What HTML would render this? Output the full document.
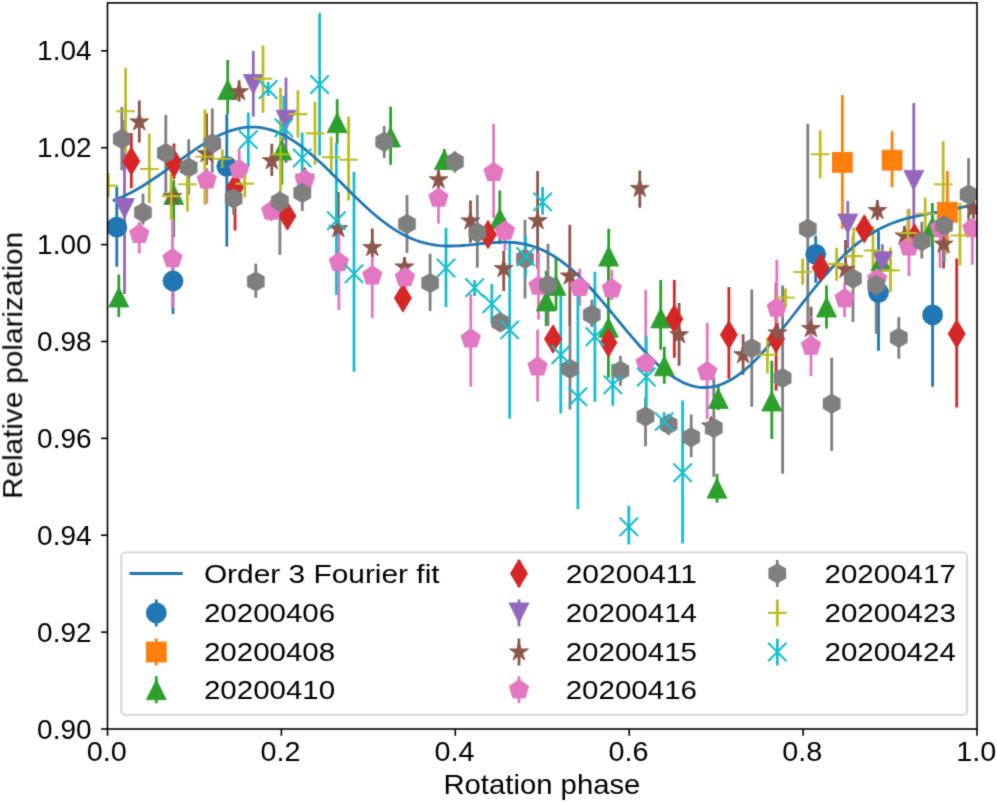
<!DOCTYPE html><html><head><meta charset="utf-8"><style>html,body{margin:0;padding:0;background:#fff;}svg{display:block;}text{font-family:"Liberation Sans", sans-serif;fill:#000;}</style></head><body>
<svg width="997" height="802" viewBox="0 0 997 802">
<defs><clipPath id="ax"><rect x="107.5" y="2.5" width="869.5" height="726.5"/></clipPath><filter id="bl" x="0" y="0" width="997" height="802" filterUnits="userSpaceOnUse" color-interpolation-filters="sRGB"><feConvolveMatrix order="3" kernelMatrix="0.01917 0.10012 0.01917 0.10012 0.52283 0.10012 0.01917 0.10012 0.01917" edgeMode="duplicate" preserveAlpha="true"/></filter></defs>
<g filter="url(#bl)">
<rect width="997" height="802" fill="#fff"/>
<g clip-path="url(#ax)">
<path d="M116.8 186.6V266.8M173.0 250.0V314.0M226.8 114.3V246.4M815.7 235.8V282.7M878.5 231.0V350.8M932.6 242.3V386.7" stroke="#1f77b4" stroke-width="2.8" fill="none"/>
<path d="M842.4 95.1V228.8M892.1 131.2V187.2M947.4 170.9V253.5" stroke="#ff7f0e" stroke-width="2.8" fill="none"/>
<path d="M118.8 274.4V316.9M173.7 180.0V237.3M227.7 60.0V114.3M281.8 138.0V184.8M337.2 99.3V143.6M390.6 106.8V164.8M444.3 149.0V170.0M499.8 190.5V244.0M546.2 271.0V326.0M556.0 257.4V310.0M608.7 228.8V270.0M608.4 262.0V377.7M660.7 280.0V349.8M664.3 346.8V383.7M718.3 385.0V410.0M717.0 474.0V502.7M771.8 360.8V438.9M826.5 285.6V328.6M881.0 250.0V272.0M932.4 203.0V247.3" stroke="#2ca02c" stroke-width="2.8" fill="none"/>
<path d="M131.3 133.0V188.2M174.0 143.5V179.0M235.0 179.0V230.5M287.4 203.9V228.8M402.9 288.0V308.0M488.0 224.0V245.0M553.0 326.0V352.0M608.4 330.0V356.0M674.3 280.0V357.8M728.9 287.0V378.7M776.1 282.5V390.5M820.7 256.0V279.0M864.3 216.0V241.0M914.5 226.0V250.0M956.7 258.5V407.6" stroke="#d62728" stroke-width="2.8" fill="none"/>
<path d="M124.5 120.0V294.0M253.3 50.9V116.7M286.0 77.4V163.0M847.8 200.9V248.6M882.4 244.2V272.0M913.8 103.1V228.8" stroke="#9467bd" stroke-width="2.8" fill="none"/>
<path d="M139.3 100.5V142.4M172.3 186.0V206.0M206.6 113.5V165.0M239.1 80.3V101.5M271.8 143.7V176.1M304.8 168.0V186.0M338.3 191.9V240.0M372.3 228.4V258.0M404.5 257.0V277.0M438.5 170.0V190.0M470.5 200.5V242.8M503.7 250.7V291.0M537.6 170.9V268.7M569.8 224.8V326.0M639.8 170.5V207.8M679.1 302.9V365.8M711.0 418.0V434.0M743.1 334.2V374.8M777.4 323.0V343.0M811.0 306.8V338.0M845.5 239.9V279.0M877.4 200.0V220.0M904.5 226.0V246.0M943.6 234.0V268.5M973.5 198.0V219.0" stroke="#8c564b" stroke-width="2.8" fill="none"/>
<path d="M139.3 221.7V253.5M172.5 219.2V308.0M206.8 168.0V203.6M239.2 148.7V180.0M271.2 200.0V221.0M304.8 171.0V190.0M338.9 232.0V310.0M372.3 256.7V318.0M405.0 266.0V288.0M438.5 188.0V223.5M470.8 293.9V386.7M493.6 123.7V217.9M504.9 218.0V250.7M537.6 329.8V401.7M538.5 252.5V319.8M579.8 268.7V306.0M611.8 269.7V300.0M645.7 290.0V372.0M707.2 322.9V419.1M776.8 259.7V323.6M811.0 316.2V376.0M844.6 282.7V316.9M877.2 268.0V289.0M909.0 208.7V276.0M940.0 218.0V267.9M972.3 218.0V264.7" stroke="#e377c2" stroke-width="2.8" fill="none"/>
<path d="M121.8 107.0V170.2M143.0 193.7V224.8M165.8 115.0V192.5M188.7 139.3V194.8M212.3 108.4V172.4M233.6 188.0V214.8M255.8 263.7V297.8M279.9 191.0V254.7M302.3 182.0V211.0M384.2 126.1V157.9M407.0 194.9V252.7M430.1 253.7V310.9M454.9 151.2V172.4M477.3 194.9V267.7M500.3 312.0V332.0M525.0 219.8V298.6M548.0 243.7V326.0M570.0 325.9V409.6M591.8 299.8V326.9M620.4 355.8V385.7M645.5 397.7V446.2M668.6 414.0V435.0M691.2 414.6V457.2M713.8 377.7V476.8M751.8 289.4V406.7M782.6 285.6V473.8M807.8 123.8V327.4M831.7 357.8V450.9M853.0 236.1V321.9M876.2 274.0V333.8M898.8 316.9V358.8M921.8 221.7V258.5M944.2 215.0V262.2M968.6 158.3V229.8" stroke="#7f7f7f" stroke-width="2.8" fill="none"/>
<path d="M108.2 173.1V196.8M125.6 68.1V153.0M149.3 133.7V203.0M171.2 173.6V219.8M187.4 171.0V211.7M204.9 109.4V204.8M222.3 150.0V167.4M244.8 173.6V197.3M263.0 45.5V112.7M280.5 87.8V191.0M297.9 90.2V137.7M315.0 101.8V164.8M331.2 136.7V174.9M348.6 116.8V200.6M767.4 338.0V373.5M785.5 289.4V306.2M802.7 258.7V284.7M820.2 130.2V178.2M836.6 247.7V280.7M853.7 227.4V289.7M873.0 226.2V269.8M890.5 247.4V292.2M907.9 209.6V242.0M925.2 197.4V232.3M943.2 141.2V204.9M960.0 203.0V265.4" stroke="#bcbd22" stroke-width="2.8" fill="none"/>
<path d="M248.3 112.5V166.2M268.2 82.0V96.0M283.8 95.8V140.0M302.2 132.4V172.4M319.6 13.0V155.4M336.4 143.0V295.0M354.0 171.7V371.8M446.0 227.9V306.9M474.6 280.0V296.0M491.8 284.0V323.9M509.7 240.8V418.8M525.7 235.8V276.7M542.6 186.9V214.8M560.8 296.0V413.6M577.9 294.8V509.3M594.9 271.8V401.7M612.8 363.8V405.7M628.8 505.7V544.6M646.3 335.8V407.0M664.1 412.1V432.0M682.6 400.6V543.6" stroke="#17becf" stroke-width="2.8" fill="none"/>
<path d="M114.0 200.4 L117.9 198.8 L121.8 197.1 L125.8 195.2 L129.7 193.3 L133.6 191.2 L137.5 189.0 L141.4 186.7 L145.4 184.3 L149.3 181.8 L153.2 179.2 L157.1 176.5 L161.0 173.8 L165.0 171.0 L168.9 168.2 L172.8 165.4 L176.7 162.5 L180.6 159.7 L184.6 156.8 L188.5 154.1 L192.4 151.3 L196.3 148.7 L200.2 146.1 L204.2 143.6 L208.1 141.2 L212.0 139.0 L215.9 136.9 L219.8 135.0 L223.8 133.3 L227.7 131.7 L231.6 130.4 L235.5 129.3 L239.4 128.4 L243.4 127.7 L247.3 127.2 L251.2 127.1 L255.1 127.1 L259.0 127.4 L263.0 128.0 L266.9 128.8 L270.8 129.9 L274.7 131.2 L278.6 132.8 L282.6 134.6 L286.5 136.6 L290.4 138.9 L294.3 141.4 L298.2 144.1 L302.2 147.0 L306.1 150.1 L310.0 153.3 L313.9 156.7 L317.8 160.2 L321.8 163.8 L325.7 167.5 L329.6 171.3 L333.5 175.2 L337.4 179.1 L341.4 183.0 L345.3 186.9 L349.2 190.8 L353.1 194.7 L357.0 198.5 L361.0 202.3 L364.9 206.0 L368.8 209.5 L372.7 213.0 L376.6 216.3 L380.6 219.5 L384.5 222.5 L388.4 225.4 L392.3 228.1 L396.2 230.6 L400.2 232.9 L404.1 235.0 L408.0 237.0 L411.9 238.7 L415.8 240.2 L419.8 241.6 L423.7 242.7 L427.6 243.7 L431.5 244.5 L435.4 245.1 L439.4 245.6 L443.3 245.8 L447.2 246.0 L451.1 246.0 L455.0 245.9 L459.0 245.8 L462.9 245.5 L466.8 245.2 L470.7 244.8 L474.6 244.4 L478.6 243.9 L482.5 243.5 L486.4 243.1 L490.3 242.8 L494.2 242.5 L498.2 242.3 L502.1 242.1 L506.0 242.1 L509.9 242.3 L513.8 242.5 L517.8 243.0 L521.7 243.6 L525.6 244.3 L529.5 245.3 L533.4 246.5 L537.4 247.9 L541.3 249.5 L545.2 251.3 L549.1 253.4 L553.1 255.7 L557.0 258.2 L560.9 260.9 L564.8 263.9 L568.7 267.0 L572.7 270.4 L576.6 274.0 L580.5 277.7 L584.4 281.7 L588.3 285.7 L592.3 290.0 L596.2 294.4 L600.1 298.9 L604.0 303.4 L607.9 308.1 L611.9 312.8 L615.8 317.6 L619.7 322.3 L623.6 327.1 L627.5 331.8 L631.5 336.4 L635.4 341.0 L639.3 345.5 L643.2 349.9 L647.1 354.1 L651.1 358.1 L655.0 362.0 L658.9 365.6 L662.8 369.0 L666.7 372.2 L670.7 375.1 L674.6 377.8 L678.5 380.1 L682.4 382.2 L686.3 383.9 L690.3 385.3 L694.2 386.4 L698.1 387.1 L702.0 387.5 L705.9 387.5 L709.9 387.2 L713.8 386.6 L717.7 385.6 L721.6 384.2 L725.5 382.6 L729.5 380.6 L733.4 378.3 L737.3 375.7 L741.2 372.8 L745.1 369.6 L749.1 366.2 L753.0 362.5 L756.9 358.6 L760.8 354.5 L764.7 350.2 L768.7 345.7 L772.6 341.1 L776.5 336.3 L780.4 331.5 L784.3 326.5 L788.3 321.5 L792.2 316.5 L796.1 311.5 L800.0 306.4 L803.9 301.4 L807.9 296.4 L811.8 291.5 L815.7 286.6 L819.6 281.9 L823.5 277.2 L827.5 272.7 L831.4 268.3 L835.3 264.1 L839.2 260.0 L843.1 256.1 L847.1 252.4 L851.0 248.9 L854.9 245.6 L858.8 242.4 L862.7 239.5 L866.7 236.7 L870.6 234.1 L874.5 231.7 L878.4 229.6 L882.3 227.5 L886.3 225.7 L890.2 224.0 L894.1 222.5 L898.0 221.1 L901.9 219.9 L905.9 218.7 L909.8 217.7 L913.7 216.8 L917.6 215.9 L921.5 215.1 L925.5 214.4 L929.4 213.7 L933.3 213.0 L937.2 212.3 L941.1 211.6 L945.1 210.9 L949.0 210.2 L952.9 209.4 L956.8 208.5 L960.7 207.6 L964.7 206.6 L968.6 205.5 L972.5 204.3" stroke="#1f77b4" stroke-width="2.8" fill="none" stroke-linejoin="round" stroke-linecap="square"/>
<circle cx="116.8" cy="227.2" r="10.40" fill="#1f77b4"/>
<circle cx="173.0" cy="281.0" r="10.40" fill="#1f77b4"/>
<circle cx="226.8" cy="166.3" r="10.40" fill="#1f77b4"/>
<circle cx="815.7" cy="254.3" r="10.40" fill="#1f77b4"/>
<circle cx="878.5" cy="292.6" r="10.40" fill="#1f77b4"/>
<circle cx="932.6" cy="314.9" r="10.40" fill="#1f77b4"/>
<rect x="832.0" y="152.0" width="20.8" height="20.8" fill="#ff7f0e"/>
<rect x="881.7" y="149.8" width="20.8" height="20.8" fill="#ff7f0e"/>
<rect x="937.0" y="201.9" width="20.8" height="20.8" fill="#ff7f0e"/>
<path d="M118.8 287.0 L108.8 307.0 L128.8 307.0Z" fill="#2ca02c" stroke="#2ca02c" stroke-width="0.8" stroke-linejoin="miter" stroke-miterlimit="10"/>
<path d="M173.7 184.5 L163.7 204.5 L183.7 204.5Z" fill="#2ca02c" stroke="#2ca02c" stroke-width="0.8" stroke-linejoin="miter" stroke-miterlimit="10"/>
<path d="M227.7 79.5 L217.7 99.5 L237.7 99.5Z" fill="#2ca02c" stroke="#2ca02c" stroke-width="0.8" stroke-linejoin="miter" stroke-miterlimit="10"/>
<path d="M281.8 140.0 L271.8 160.0 L291.8 160.0Z" fill="#2ca02c" stroke="#2ca02c" stroke-width="0.8" stroke-linejoin="miter" stroke-miterlimit="10"/>
<path d="M337.2 112.7 L327.2 132.7 L347.2 132.7Z" fill="#2ca02c" stroke="#2ca02c" stroke-width="0.8" stroke-linejoin="miter" stroke-miterlimit="10"/>
<path d="M390.6 127.0 L380.6 147.0 L400.6 147.0Z" fill="#2ca02c" stroke="#2ca02c" stroke-width="0.8" stroke-linejoin="miter" stroke-miterlimit="10"/>
<path d="M444.3 149.6 L434.3 169.6 L454.3 169.6Z" fill="#2ca02c" stroke="#2ca02c" stroke-width="0.8" stroke-linejoin="miter" stroke-miterlimit="10"/>
<path d="M499.8 208.5 L489.8 228.5 L509.8 228.5Z" fill="#2ca02c" stroke="#2ca02c" stroke-width="0.8" stroke-linejoin="miter" stroke-miterlimit="10"/>
<path d="M546.2 291.0 L536.2 311.0 L556.2 311.0Z" fill="#2ca02c" stroke="#2ca02c" stroke-width="0.8" stroke-linejoin="miter" stroke-miterlimit="10"/>
<path d="M556.0 275.5 L546.0 295.5 L566.0 295.5Z" fill="#2ca02c" stroke="#2ca02c" stroke-width="0.8" stroke-linejoin="miter" stroke-miterlimit="10"/>
<path d="M608.7 246.1 L598.7 266.1 L618.7 266.1Z" fill="#2ca02c" stroke="#2ca02c" stroke-width="0.8" stroke-linejoin="miter" stroke-miterlimit="10"/>
<path d="M608.4 317.3 L598.4 337.3 L618.4 337.3Z" fill="#2ca02c" stroke="#2ca02c" stroke-width="0.8" stroke-linejoin="miter" stroke-miterlimit="10"/>
<path d="M660.7 307.9 L650.7 327.9 L670.7 327.9Z" fill="#2ca02c" stroke="#2ca02c" stroke-width="0.8" stroke-linejoin="miter" stroke-miterlimit="10"/>
<path d="M664.3 355.8 L654.3 375.8 L674.3 375.8Z" fill="#2ca02c" stroke="#2ca02c" stroke-width="0.8" stroke-linejoin="miter" stroke-miterlimit="10"/>
<path d="M718.3 388.5 L708.3 408.5 L728.3 408.5Z" fill="#2ca02c" stroke="#2ca02c" stroke-width="0.8" stroke-linejoin="miter" stroke-miterlimit="10"/>
<path d="M717.0 478.2 L707.0 498.2 L727.0 498.2Z" fill="#2ca02c" stroke="#2ca02c" stroke-width="0.8" stroke-linejoin="miter" stroke-miterlimit="10"/>
<path d="M771.8 391.0 L761.8 411.0 L781.8 411.0Z" fill="#2ca02c" stroke="#2ca02c" stroke-width="0.8" stroke-linejoin="miter" stroke-miterlimit="10"/>
<path d="M826.5 297.0 L816.5 317.0 L836.5 317.0Z" fill="#2ca02c" stroke="#2ca02c" stroke-width="0.8" stroke-linejoin="miter" stroke-miterlimit="10"/>
<path d="M881.0 251.0 L871.0 271.0 L891.0 271.0Z" fill="#2ca02c" stroke="#2ca02c" stroke-width="0.8" stroke-linejoin="miter" stroke-miterlimit="10"/>
<path d="M932.4 216.7 L922.4 236.7 L942.4 236.7Z" fill="#2ca02c" stroke="#2ca02c" stroke-width="0.8" stroke-linejoin="miter" stroke-miterlimit="10"/>
<path d="M131.3 147.1 L139.8 161.2 L131.3 175.3 L122.8 161.2Z" fill="#d62728" stroke="#d62728" stroke-width="1.0" stroke-linejoin="miter" stroke-miterlimit="10"/>
<path d="M174.0 149.1 L182.5 163.2 L174.0 177.3 L165.5 163.2Z" fill="#d62728" stroke="#d62728" stroke-width="1.0" stroke-linejoin="miter" stroke-miterlimit="10"/>
<path d="M235.0 173.3 L243.5 187.4 L235.0 201.5 L226.5 187.4Z" fill="#d62728" stroke="#d62728" stroke-width="1.0" stroke-linejoin="miter" stroke-miterlimit="10"/>
<path d="M287.4 201.9 L295.9 216.0 L287.4 230.1 L278.9 216.0Z" fill="#d62728" stroke="#d62728" stroke-width="1.0" stroke-linejoin="miter" stroke-miterlimit="10"/>
<path d="M402.9 283.9 L411.4 298.0 L402.9 312.1 L394.4 298.0Z" fill="#d62728" stroke="#d62728" stroke-width="1.0" stroke-linejoin="miter" stroke-miterlimit="10"/>
<path d="M488.0 220.4 L496.5 234.5 L488.0 248.6 L479.5 234.5Z" fill="#d62728" stroke="#d62728" stroke-width="1.0" stroke-linejoin="miter" stroke-miterlimit="10"/>
<path d="M553.0 324.9 L561.5 339.0 L553.0 353.1 L544.5 339.0Z" fill="#d62728" stroke="#d62728" stroke-width="1.0" stroke-linejoin="miter" stroke-miterlimit="10"/>
<path d="M608.4 328.7 L616.9 342.8 L608.4 356.9 L599.9 342.8Z" fill="#d62728" stroke="#d62728" stroke-width="1.0" stroke-linejoin="miter" stroke-miterlimit="10"/>
<path d="M674.3 304.8 L682.8 318.9 L674.3 333.0 L665.8 318.9Z" fill="#d62728" stroke="#d62728" stroke-width="1.0" stroke-linejoin="miter" stroke-miterlimit="10"/>
<path d="M728.9 320.7 L737.4 334.8 L728.9 348.9 L720.4 334.8Z" fill="#d62728" stroke="#d62728" stroke-width="1.0" stroke-linejoin="miter" stroke-miterlimit="10"/>
<path d="M776.1 324.7 L784.6 338.8 L776.1 352.9 L767.6 338.8Z" fill="#d62728" stroke="#d62728" stroke-width="1.0" stroke-linejoin="miter" stroke-miterlimit="10"/>
<path d="M820.7 253.6 L829.2 267.7 L820.7 281.8 L812.2 267.7Z" fill="#d62728" stroke="#d62728" stroke-width="1.0" stroke-linejoin="miter" stroke-miterlimit="10"/>
<path d="M864.3 214.8 L872.8 228.9 L864.3 243.0 L855.8 228.9Z" fill="#d62728" stroke="#d62728" stroke-width="1.0" stroke-linejoin="miter" stroke-miterlimit="10"/>
<path d="M914.5 223.9 L923.0 238.0 L914.5 252.1 L906.0 238.0Z" fill="#d62728" stroke="#d62728" stroke-width="1.0" stroke-linejoin="miter" stroke-miterlimit="10"/>
<path d="M956.7 319.7 L965.2 333.8 L956.7 347.9 L948.2 333.8Z" fill="#d62728" stroke="#d62728" stroke-width="1.0" stroke-linejoin="miter" stroke-miterlimit="10"/>
<path d="M124.5 218.5 L114.5 198.5 L134.5 198.5Z" fill="#9467bd" stroke="#9467bd" stroke-width="0.8" stroke-linejoin="miter" stroke-miterlimit="10"/>
<path d="M253.3 94.5 L243.3 74.5 L263.3 74.5Z" fill="#9467bd" stroke="#9467bd" stroke-width="0.8" stroke-linejoin="miter" stroke-miterlimit="10"/>
<path d="M286.0 130.2 L276.0 110.2 L296.0 110.2Z" fill="#9467bd" stroke="#9467bd" stroke-width="0.8" stroke-linejoin="miter" stroke-miterlimit="10"/>
<path d="M847.8 234.0 L837.8 214.0 L857.8 214.0Z" fill="#9467bd" stroke="#9467bd" stroke-width="0.8" stroke-linejoin="miter" stroke-miterlimit="10"/>
<path d="M882.4 271.8 L872.4 251.8 L892.4 251.8Z" fill="#9467bd" stroke="#9467bd" stroke-width="0.8" stroke-linejoin="miter" stroke-miterlimit="10"/>
<path d="M913.8 190.4 L903.8 170.4 L923.8 170.4Z" fill="#9467bd" stroke="#9467bd" stroke-width="0.8" stroke-linejoin="miter" stroke-miterlimit="10"/>
<path d="M139.3 112.0 L137.1 118.9 L129.8 118.9 L135.7 123.2 L133.4 130.1 L139.3 125.8 L145.2 130.1 L142.9 123.2 L148.8 118.9 L141.5 118.9Z" fill="#8c564b" stroke="#8c564b" stroke-width="0.9" stroke-linejoin="miter" stroke-miterlimit="10"/>
<path d="M172.3 186.5 L170.1 193.4 L162.8 193.4 L168.7 197.7 L166.4 204.6 L172.3 200.3 L178.2 204.6 L175.9 197.7 L181.8 193.4 L174.5 193.4Z" fill="#8c564b" stroke="#8c564b" stroke-width="0.9" stroke-linejoin="miter" stroke-miterlimit="10"/>
<path d="M206.6 143.7 L204.4 150.6 L197.1 150.6 L203.0 154.9 L200.7 161.8 L206.6 157.5 L212.5 161.8 L210.2 154.9 L216.1 150.6 L208.8 150.6Z" fill="#8c564b" stroke="#8c564b" stroke-width="0.9" stroke-linejoin="miter" stroke-miterlimit="10"/>
<path d="M239.1 81.8 L236.9 88.7 L229.6 88.7 L235.5 93.0 L233.2 99.9 L239.1 95.6 L245.0 99.9 L242.7 93.0 L248.6 88.7 L241.3 88.7Z" fill="#8c564b" stroke="#8c564b" stroke-width="0.9" stroke-linejoin="miter" stroke-miterlimit="10"/>
<path d="M271.8 150.8 L269.6 157.7 L262.3 157.7 L268.2 162.0 L265.9 168.9 L271.8 164.6 L277.7 168.9 L275.4 162.0 L281.3 157.7 L274.0 157.7Z" fill="#8c564b" stroke="#8c564b" stroke-width="0.9" stroke-linejoin="miter" stroke-miterlimit="10"/>
<path d="M304.8 167.4 L302.6 174.3 L295.3 174.3 L301.2 178.6 L298.9 185.5 L304.8 181.2 L310.7 185.5 L308.4 178.6 L314.3 174.3 L307.0 174.3Z" fill="#8c564b" stroke="#8c564b" stroke-width="0.9" stroke-linejoin="miter" stroke-miterlimit="10"/>
<path d="M338.3 218.8 L336.1 225.7 L328.8 225.7 L334.7 230.0 L332.4 236.9 L338.3 232.6 L344.2 236.9 L341.9 230.0 L347.8 225.7 L340.5 225.7Z" fill="#8c564b" stroke="#8c564b" stroke-width="0.9" stroke-linejoin="miter" stroke-miterlimit="10"/>
<path d="M372.3 237.7 L370.1 244.6 L362.8 244.6 L368.7 248.9 L366.4 255.8 L372.3 251.5 L378.2 255.8 L375.9 248.9 L381.8 244.6 L374.5 244.6Z" fill="#8c564b" stroke="#8c564b" stroke-width="0.9" stroke-linejoin="miter" stroke-miterlimit="10"/>
<path d="M404.5 257.0 L402.3 263.9 L395.0 263.9 L400.9 268.2 L398.6 275.1 L404.5 270.8 L410.4 275.1 L408.1 268.2 L414.0 263.9 L406.7 263.9Z" fill="#8c564b" stroke="#8c564b" stroke-width="0.9" stroke-linejoin="miter" stroke-miterlimit="10"/>
<path d="M438.5 169.9 L436.3 176.8 L429.0 176.8 L434.9 181.1 L432.6 188.0 L438.5 183.7 L444.4 188.0 L442.1 181.1 L448.0 176.8 L440.7 176.8Z" fill="#8c564b" stroke="#8c564b" stroke-width="0.9" stroke-linejoin="miter" stroke-miterlimit="10"/>
<path d="M470.5 211.0 L468.3 217.9 L461.0 217.9 L466.9 222.2 L464.6 229.1 L470.5 224.8 L476.4 229.1 L474.1 222.2 L480.0 217.9 L472.7 217.9Z" fill="#8c564b" stroke="#8c564b" stroke-width="0.9" stroke-linejoin="miter" stroke-miterlimit="10"/>
<path d="M503.7 258.7 L501.5 265.6 L494.2 265.6 L500.1 269.9 L497.8 276.8 L503.7 272.5 L509.6 276.8 L507.3 269.9 L513.2 265.6 L505.9 265.6Z" fill="#8c564b" stroke="#8c564b" stroke-width="0.9" stroke-linejoin="miter" stroke-miterlimit="10"/>
<path d="M537.6 210.8 L535.4 217.7 L528.1 217.7 L534.0 222.0 L531.7 228.9 L537.6 224.6 L543.5 228.9 L541.2 222.0 L547.1 217.7 L539.8 217.7Z" fill="#8c564b" stroke="#8c564b" stroke-width="0.9" stroke-linejoin="miter" stroke-miterlimit="10"/>
<path d="M569.8 266.1 L567.6 273.0 L560.3 273.0 L566.2 277.3 L563.9 284.2 L569.8 279.9 L575.7 284.2 L573.4 277.3 L579.3 273.0 L572.0 273.0Z" fill="#8c564b" stroke="#8c564b" stroke-width="0.9" stroke-linejoin="miter" stroke-miterlimit="10"/>
<path d="M639.8 178.5 L637.6 185.4 L630.3 185.4 L636.2 189.7 L633.9 196.6 L639.8 192.3 L645.7 196.6 L643.4 189.7 L649.3 185.4 L642.0 185.4Z" fill="#8c564b" stroke="#8c564b" stroke-width="0.9" stroke-linejoin="miter" stroke-miterlimit="10"/>
<path d="M679.1 324.8 L676.9 331.7 L669.6 331.7 L675.5 336.0 L673.2 342.9 L679.1 338.6 L685.0 342.9 L682.7 336.0 L688.6 331.7 L681.3 331.7Z" fill="#8c564b" stroke="#8c564b" stroke-width="0.9" stroke-linejoin="miter" stroke-miterlimit="10"/>
<path d="M711.0 416.0 L708.8 422.9 L701.5 422.9 L707.4 427.2 L705.1 434.1 L711.0 429.8 L716.9 434.1 L714.6 427.2 L720.5 422.9 L713.2 422.9Z" fill="#8c564b" stroke="#8c564b" stroke-width="0.9" stroke-linejoin="miter" stroke-miterlimit="10"/>
<path d="M743.1 344.8 L740.9 351.7 L733.6 351.7 L739.5 356.0 L737.2 362.9 L743.1 358.6 L749.0 362.9 L746.7 356.0 L752.6 351.7 L745.3 351.7Z" fill="#8c564b" stroke="#8c564b" stroke-width="0.9" stroke-linejoin="miter" stroke-miterlimit="10"/>
<path d="M777.4 323.0 L775.2 329.9 L767.9 329.9 L773.8 334.2 L771.5 341.1 L777.4 336.8 L783.3 341.1 L781.0 334.2 L786.9 329.9 L779.6 329.9Z" fill="#8c564b" stroke="#8c564b" stroke-width="0.9" stroke-linejoin="miter" stroke-miterlimit="10"/>
<path d="M811.0 318.6 L808.8 325.5 L801.5 325.5 L807.4 329.8 L805.1 336.7 L811.0 332.4 L816.9 336.7 L814.6 329.8 L820.5 325.5 L813.2 325.5Z" fill="#8c564b" stroke="#8c564b" stroke-width="0.9" stroke-linejoin="miter" stroke-miterlimit="10"/>
<path d="M845.5 259.5 L843.3 266.4 L836.0 266.4 L841.9 270.7 L839.6 277.6 L845.5 273.3 L851.4 277.6 L849.1 270.7 L855.0 266.4 L847.7 266.4Z" fill="#8c564b" stroke="#8c564b" stroke-width="0.9" stroke-linejoin="miter" stroke-miterlimit="10"/>
<path d="M877.4 200.6 L875.2 207.5 L867.9 207.5 L873.8 211.8 L871.5 218.7 L877.4 214.4 L883.3 218.7 L881.0 211.8 L886.9 207.5 L879.6 207.5Z" fill="#8c564b" stroke="#8c564b" stroke-width="0.9" stroke-linejoin="miter" stroke-miterlimit="10"/>
<path d="M904.5 226.0 L902.3 232.9 L895.0 232.9 L900.9 237.2 L898.6 244.1 L904.5 239.8 L910.4 244.1 L908.1 237.2 L914.0 232.9 L906.7 232.9Z" fill="#8c564b" stroke="#8c564b" stroke-width="0.9" stroke-linejoin="miter" stroke-miterlimit="10"/>
<path d="M943.6 234.2 L941.4 241.1 L934.1 241.1 L940.0 245.4 L937.7 252.3 L943.6 248.0 L949.5 252.3 L947.2 245.4 L953.1 241.1 L945.8 241.1Z" fill="#8c564b" stroke="#8c564b" stroke-width="0.9" stroke-linejoin="miter" stroke-miterlimit="10"/>
<path d="M973.5 198.7 L971.3 205.6 L964.0 205.6 L969.9 209.9 L967.6 216.8 L973.5 212.5 L979.4 216.8 L977.1 209.9 L983.0 205.6 L975.7 205.6Z" fill="#8c564b" stroke="#8c564b" stroke-width="0.9" stroke-linejoin="miter" stroke-miterlimit="10"/>
<path d="M139.3 224.2 L129.8 231.1 L133.4 242.3 L145.2 242.3 L148.8 231.1Z" fill="#e377c2" stroke="#e377c2" stroke-width="1.2" stroke-linejoin="miter" stroke-miterlimit="10"/>
<path d="M172.5 248.5 L163.0 255.4 L166.6 266.6 L178.4 266.6 L182.0 255.4Z" fill="#e377c2" stroke="#e377c2" stroke-width="1.2" stroke-linejoin="miter" stroke-miterlimit="10"/>
<path d="M206.8 169.9 L197.3 176.8 L200.9 188.0 L212.7 188.0 L216.3 176.8Z" fill="#e377c2" stroke="#e377c2" stroke-width="1.2" stroke-linejoin="miter" stroke-miterlimit="10"/>
<path d="M239.2 159.5 L229.7 166.4 L233.3 177.6 L245.1 177.6 L248.7 166.4Z" fill="#e377c2" stroke="#e377c2" stroke-width="1.2" stroke-linejoin="miter" stroke-miterlimit="10"/>
<path d="M271.2 201.0 L261.7 207.9 L265.3 219.1 L277.1 219.1 L280.7 207.9Z" fill="#e377c2" stroke="#e377c2" stroke-width="1.2" stroke-linejoin="miter" stroke-miterlimit="10"/>
<path d="M304.8 169.8 L295.3 176.7 L298.9 187.9 L310.7 187.9 L314.3 176.7Z" fill="#e377c2" stroke="#e377c2" stroke-width="1.2" stroke-linejoin="miter" stroke-miterlimit="10"/>
<path d="M338.9 252.3 L329.4 259.2 L333.0 270.4 L344.8 270.4 L348.4 259.2Z" fill="#e377c2" stroke="#e377c2" stroke-width="1.2" stroke-linejoin="miter" stroke-miterlimit="10"/>
<path d="M372.3 265.7 L362.8 272.6 L366.4 283.8 L378.2 283.8 L381.8 272.6Z" fill="#e377c2" stroke="#e377c2" stroke-width="1.2" stroke-linejoin="miter" stroke-miterlimit="10"/>
<path d="M405.0 267.5 L395.5 274.4 L399.1 285.6 L410.9 285.6 L414.5 274.4Z" fill="#e377c2" stroke="#e377c2" stroke-width="1.2" stroke-linejoin="miter" stroke-miterlimit="10"/>
<path d="M438.5 188.0 L429.0 194.9 L432.6 206.1 L444.4 206.1 L448.0 194.9Z" fill="#e377c2" stroke="#e377c2" stroke-width="1.2" stroke-linejoin="miter" stroke-miterlimit="10"/>
<path d="M470.8 328.8 L461.3 335.7 L464.9 346.9 L476.7 346.9 L480.3 335.7Z" fill="#e377c2" stroke="#e377c2" stroke-width="1.2" stroke-linejoin="miter" stroke-miterlimit="10"/>
<path d="M493.6 162.4 L484.1 169.3 L487.7 180.5 L499.5 180.5 L503.1 169.3Z" fill="#e377c2" stroke="#e377c2" stroke-width="1.2" stroke-linejoin="miter" stroke-miterlimit="10"/>
<path d="M504.9 221.0 L495.4 227.9 L499.0 239.1 L510.8 239.1 L514.4 227.9Z" fill="#e377c2" stroke="#e377c2" stroke-width="1.2" stroke-linejoin="miter" stroke-miterlimit="10"/>
<path d="M537.6 356.8 L528.1 363.7 L531.7 374.9 L543.5 374.9 L547.1 363.7Z" fill="#e377c2" stroke="#e377c2" stroke-width="1.2" stroke-linejoin="miter" stroke-miterlimit="10"/>
<path d="M538.5 276.1 L529.0 283.0 L532.6 294.2 L544.4 294.2 L548.0 283.0Z" fill="#e377c2" stroke="#e377c2" stroke-width="1.2" stroke-linejoin="miter" stroke-miterlimit="10"/>
<path d="M579.8 277.4 L570.3 284.3 L573.9 295.5 L585.7 295.5 L589.3 284.3Z" fill="#e377c2" stroke="#e377c2" stroke-width="1.2" stroke-linejoin="miter" stroke-miterlimit="10"/>
<path d="M611.8 278.8 L602.3 285.7 L605.9 296.9 L617.7 296.9 L621.3 285.7Z" fill="#e377c2" stroke="#e377c2" stroke-width="1.2" stroke-linejoin="miter" stroke-miterlimit="10"/>
<path d="M645.7 353.2 L636.2 360.1 L639.8 371.3 L651.6 371.3 L655.2 360.1Z" fill="#e377c2" stroke="#e377c2" stroke-width="1.2" stroke-linejoin="miter" stroke-miterlimit="10"/>
<path d="M707.2 361.6 L697.7 368.5 L701.3 379.7 L713.1 379.7 L716.7 368.5Z" fill="#e377c2" stroke="#e377c2" stroke-width="1.2" stroke-linejoin="miter" stroke-miterlimit="10"/>
<path d="M776.8 298.0 L767.3 304.9 L770.9 316.1 L782.7 316.1 L786.3 304.9Z" fill="#e377c2" stroke="#e377c2" stroke-width="1.2" stroke-linejoin="miter" stroke-miterlimit="10"/>
<path d="M811.0 336.1 L801.5 343.0 L805.1 354.2 L816.9 354.2 L820.5 343.0Z" fill="#e377c2" stroke="#e377c2" stroke-width="1.2" stroke-linejoin="miter" stroke-miterlimit="10"/>
<path d="M844.6 288.5 L835.1 295.4 L838.7 306.6 L850.5 306.6 L854.1 295.4Z" fill="#e377c2" stroke="#e377c2" stroke-width="1.2" stroke-linejoin="miter" stroke-miterlimit="10"/>
<path d="M877.2 269.0 L867.7 275.9 L871.3 287.1 L883.1 287.1 L886.7 275.9Z" fill="#e377c2" stroke="#e377c2" stroke-width="1.2" stroke-linejoin="miter" stroke-miterlimit="10"/>
<path d="M909.0 236.8 L899.5 243.7 L903.1 254.9 L914.9 254.9 L918.5 243.7Z" fill="#e377c2" stroke="#e377c2" stroke-width="1.2" stroke-linejoin="miter" stroke-miterlimit="10"/>
<path d="M940.0 218.0 L930.5 224.9 L934.1 236.1 L945.9 236.1 L949.5 224.9Z" fill="#e377c2" stroke="#e377c2" stroke-width="1.2" stroke-linejoin="miter" stroke-miterlimit="10"/>
<path d="M972.3 218.6 L962.8 225.5 L966.4 236.7 L978.2 236.7 L981.8 225.5Z" fill="#e377c2" stroke="#e377c2" stroke-width="1.2" stroke-linejoin="miter" stroke-miterlimit="10"/>
<path d="M121.8 128.9 L113.1 133.9 L113.1 143.9 L121.8 148.9 L130.5 143.9 L130.5 133.9Z" fill="#7f7f7f" stroke="#7f7f7f" stroke-width="0.3" stroke-linejoin="miter" stroke-miterlimit="10"/>
<path d="M143.0 202.6 L134.3 207.6 L134.3 217.6 L143.0 222.6 L151.7 217.6 L151.7 207.6Z" fill="#7f7f7f" stroke="#7f7f7f" stroke-width="0.3" stroke-linejoin="miter" stroke-miterlimit="10"/>
<path d="M165.8 143.0 L157.1 148.0 L157.1 158.0 L165.8 163.0 L174.5 158.0 L174.5 148.0Z" fill="#7f7f7f" stroke="#7f7f7f" stroke-width="0.3" stroke-linejoin="miter" stroke-miterlimit="10"/>
<path d="M188.7 157.5 L180.0 162.5 L180.0 172.5 L188.7 177.5 L197.4 172.5 L197.4 162.5Z" fill="#7f7f7f" stroke="#7f7f7f" stroke-width="0.3" stroke-linejoin="miter" stroke-miterlimit="10"/>
<path d="M212.3 133.5 L203.6 138.5 L203.6 148.5 L212.3 153.5 L221.0 148.5 L221.0 138.5Z" fill="#7f7f7f" stroke="#7f7f7f" stroke-width="0.3" stroke-linejoin="miter" stroke-miterlimit="10"/>
<path d="M233.6 188.6 L224.9 193.6 L224.9 203.6 L233.6 208.6 L242.3 203.6 L242.3 193.6Z" fill="#7f7f7f" stroke="#7f7f7f" stroke-width="0.3" stroke-linejoin="miter" stroke-miterlimit="10"/>
<path d="M255.8 271.5 L247.1 276.5 L247.1 286.5 L255.8 291.5 L264.5 286.5 L264.5 276.5Z" fill="#7f7f7f" stroke="#7f7f7f" stroke-width="0.3" stroke-linejoin="miter" stroke-miterlimit="10"/>
<path d="M279.9 191.6 L271.2 196.6 L271.2 206.6 L279.9 211.6 L288.6 206.6 L288.6 196.6Z" fill="#7f7f7f" stroke="#7f7f7f" stroke-width="0.3" stroke-linejoin="miter" stroke-miterlimit="10"/>
<path d="M302.3 182.9 L293.6 187.9 L293.6 197.9 L302.3 202.9 L311.0 197.9 L311.0 187.9Z" fill="#7f7f7f" stroke="#7f7f7f" stroke-width="0.3" stroke-linejoin="miter" stroke-miterlimit="10"/>
<path d="M384.2 131.8 L375.5 136.8 L375.5 146.8 L384.2 151.8 L392.9 146.8 L392.9 136.8Z" fill="#7f7f7f" stroke="#7f7f7f" stroke-width="0.3" stroke-linejoin="miter" stroke-miterlimit="10"/>
<path d="M407.0 214.0 L398.3 219.0 L398.3 229.0 L407.0 234.0 L415.7 229.0 L415.7 219.0Z" fill="#7f7f7f" stroke="#7f7f7f" stroke-width="0.3" stroke-linejoin="miter" stroke-miterlimit="10"/>
<path d="M430.1 273.0 L421.4 278.0 L421.4 288.0 L430.1 293.0 L438.8 288.0 L438.8 278.0Z" fill="#7f7f7f" stroke="#7f7f7f" stroke-width="0.3" stroke-linejoin="miter" stroke-miterlimit="10"/>
<path d="M454.9 151.8 L446.2 156.8 L446.2 166.8 L454.9 171.8 L463.6 166.8 L463.6 156.8Z" fill="#7f7f7f" stroke="#7f7f7f" stroke-width="0.3" stroke-linejoin="miter" stroke-miterlimit="10"/>
<path d="M477.3 222.6 L468.6 227.6 L468.6 237.6 L477.3 242.6 L486.0 237.6 L486.0 227.6Z" fill="#7f7f7f" stroke="#7f7f7f" stroke-width="0.3" stroke-linejoin="miter" stroke-miterlimit="10"/>
<path d="M500.3 312.3 L491.6 317.3 L491.6 327.3 L500.3 332.3 L509.0 327.3 L509.0 317.3Z" fill="#7f7f7f" stroke="#7f7f7f" stroke-width="0.3" stroke-linejoin="miter" stroke-miterlimit="10"/>
<path d="M525.0 248.7 L516.3 253.7 L516.3 263.7 L525.0 268.7 L533.7 263.7 L533.7 253.7Z" fill="#7f7f7f" stroke="#7f7f7f" stroke-width="0.3" stroke-linejoin="miter" stroke-miterlimit="10"/>
<path d="M548.0 274.9 L539.3 279.9 L539.3 289.9 L548.0 294.9 L556.7 289.9 L556.7 279.9Z" fill="#7f7f7f" stroke="#7f7f7f" stroke-width="0.3" stroke-linejoin="miter" stroke-miterlimit="10"/>
<path d="M570.0 358.8 L561.3 363.8 L561.3 373.8 L570.0 378.8 L578.7 373.8 L578.7 363.8Z" fill="#7f7f7f" stroke="#7f7f7f" stroke-width="0.3" stroke-linejoin="miter" stroke-miterlimit="10"/>
<path d="M591.8 304.8 L583.1 309.8 L583.1 319.8 L591.8 324.8 L600.5 319.8 L600.5 309.8Z" fill="#7f7f7f" stroke="#7f7f7f" stroke-width="0.3" stroke-linejoin="miter" stroke-miterlimit="10"/>
<path d="M620.4 360.7 L611.7 365.7 L611.7 375.7 L620.4 380.7 L629.1 375.7 L629.1 365.7Z" fill="#7f7f7f" stroke="#7f7f7f" stroke-width="0.3" stroke-linejoin="miter" stroke-miterlimit="10"/>
<path d="M645.5 406.6 L636.8 411.6 L636.8 421.6 L645.5 426.6 L654.2 421.6 L654.2 411.6Z" fill="#7f7f7f" stroke="#7f7f7f" stroke-width="0.3" stroke-linejoin="miter" stroke-miterlimit="10"/>
<path d="M668.6 414.6 L659.9 419.6 L659.9 429.6 L668.6 434.6 L677.3 429.6 L677.3 419.6Z" fill="#7f7f7f" stroke="#7f7f7f" stroke-width="0.3" stroke-linejoin="miter" stroke-miterlimit="10"/>
<path d="M691.2 427.2 L682.5 432.2 L682.5 442.2 L691.2 447.2 L699.9 442.2 L699.9 432.2Z" fill="#7f7f7f" stroke="#7f7f7f" stroke-width="0.3" stroke-linejoin="miter" stroke-miterlimit="10"/>
<path d="M713.8 418.1 L705.1 423.1 L705.1 433.1 L713.8 438.1 L722.5 433.1 L722.5 423.1Z" fill="#7f7f7f" stroke="#7f7f7f" stroke-width="0.3" stroke-linejoin="miter" stroke-miterlimit="10"/>
<path d="M751.8 338.3 L743.1 343.3 L743.1 353.3 L751.8 358.3 L760.5 353.3 L760.5 343.3Z" fill="#7f7f7f" stroke="#7f7f7f" stroke-width="0.3" stroke-linejoin="miter" stroke-miterlimit="10"/>
<path d="M782.6 368.0 L773.9 373.0 L773.9 383.0 L782.6 388.0 L791.3 383.0 L791.3 373.0Z" fill="#7f7f7f" stroke="#7f7f7f" stroke-width="0.3" stroke-linejoin="miter" stroke-miterlimit="10"/>
<path d="M807.8 218.8 L799.1 223.8 L799.1 233.8 L807.8 238.8 L816.5 233.8 L816.5 223.8Z" fill="#7f7f7f" stroke="#7f7f7f" stroke-width="0.3" stroke-linejoin="miter" stroke-miterlimit="10"/>
<path d="M831.7 393.7 L823.0 398.7 L823.0 408.7 L831.7 413.7 L840.4 408.7 L840.4 398.7Z" fill="#7f7f7f" stroke="#7f7f7f" stroke-width="0.3" stroke-linejoin="miter" stroke-miterlimit="10"/>
<path d="M853.0 268.6 L844.3 273.6 L844.3 283.6 L853.0 288.6 L861.7 283.6 L861.7 273.6Z" fill="#7f7f7f" stroke="#7f7f7f" stroke-width="0.3" stroke-linejoin="miter" stroke-miterlimit="10"/>
<path d="M876.2 275.0 L867.5 280.0 L867.5 290.0 L876.2 295.0 L884.9 290.0 L884.9 280.0Z" fill="#7f7f7f" stroke="#7f7f7f" stroke-width="0.3" stroke-linejoin="miter" stroke-miterlimit="10"/>
<path d="M898.8 327.8 L890.1 332.8 L890.1 342.8 L898.8 347.8 L907.5 342.8 L907.5 332.8Z" fill="#7f7f7f" stroke="#7f7f7f" stroke-width="0.3" stroke-linejoin="miter" stroke-miterlimit="10"/>
<path d="M921.8 231.3 L913.1 236.3 L913.1 246.3 L921.8 251.3 L930.5 246.3 L930.5 236.3Z" fill="#7f7f7f" stroke="#7f7f7f" stroke-width="0.3" stroke-linejoin="miter" stroke-miterlimit="10"/>
<path d="M944.2 215.5 L935.5 220.5 L935.5 230.5 L944.2 235.5 L952.9 230.5 L952.9 220.5Z" fill="#7f7f7f" stroke="#7f7f7f" stroke-width="0.3" stroke-linejoin="miter" stroke-miterlimit="10"/>
<path d="M968.6 184.4 L959.9 189.4 L959.9 199.4 L968.6 204.4 L977.3 199.4 L977.3 189.4Z" fill="#7f7f7f" stroke="#7f7f7f" stroke-width="0.3" stroke-linejoin="miter" stroke-miterlimit="10"/>
<path d="M98.9 185.6H117.5M108.2 176.3V194.9" stroke="#bcbd22" stroke-width="2.1" fill="none"/>
<path d="M116.3 111.3H134.9M125.6 102.0V120.6" stroke="#bcbd22" stroke-width="2.1" fill="none"/>
<path d="M140.0 169.0H158.6M149.3 159.7V178.3" stroke="#bcbd22" stroke-width="2.1" fill="none"/>
<path d="M161.9 196.1H180.5M171.2 186.8V205.4" stroke="#bcbd22" stroke-width="2.1" fill="none"/>
<path d="M178.1 184.2H196.7M187.4 174.9V193.5" stroke="#bcbd22" stroke-width="2.1" fill="none"/>
<path d="M195.6 156.8H214.2M204.9 147.5V166.1" stroke="#bcbd22" stroke-width="2.1" fill="none"/>
<path d="M213.0 158.7H231.6M222.3 149.4V168.0" stroke="#bcbd22" stroke-width="2.1" fill="none"/>
<path d="M235.5 183.6H254.1M244.8 174.3V192.9" stroke="#bcbd22" stroke-width="2.1" fill="none"/>
<path d="M253.7 78.8H272.3M263.0 69.5V88.1" stroke="#bcbd22" stroke-width="2.1" fill="none"/>
<path d="M271.2 154.3H289.8M280.5 145.0V163.6" stroke="#bcbd22" stroke-width="2.1" fill="none"/>
<path d="M288.6 114.1H307.2M297.9 104.8V123.4" stroke="#bcbd22" stroke-width="2.1" fill="none"/>
<path d="M305.7 133.4H324.3M315.0 124.1V142.7" stroke="#bcbd22" stroke-width="2.1" fill="none"/>
<path d="M321.9 157.3H340.5M331.2 148.0V166.6" stroke="#bcbd22" stroke-width="2.1" fill="none"/>
<path d="M339.3 159.8H357.9M348.6 150.5V169.1" stroke="#bcbd22" stroke-width="2.1" fill="none"/>
<path d="M758.1 354.8H776.7M767.4 345.5V364.1" stroke="#bcbd22" stroke-width="2.1" fill="none"/>
<path d="M776.2 297.5H794.8M785.5 288.2V306.8" stroke="#bcbd22" stroke-width="2.1" fill="none"/>
<path d="M793.4 272.0H812.0M802.7 262.7V281.3" stroke="#bcbd22" stroke-width="2.1" fill="none"/>
<path d="M810.9 154.2H829.5M820.2 144.9V163.5" stroke="#bcbd22" stroke-width="2.1" fill="none"/>
<path d="M827.3 264.1H845.9M836.6 254.8V273.4" stroke="#bcbd22" stroke-width="2.1" fill="none"/>
<path d="M844.4 256.1H863.0M853.7 246.8V265.4" stroke="#bcbd22" stroke-width="2.1" fill="none"/>
<path d="M863.7 250.5H882.3M873.0 241.2V259.8" stroke="#bcbd22" stroke-width="2.1" fill="none"/>
<path d="M881.2 270.4H899.8M890.5 261.1V279.7" stroke="#bcbd22" stroke-width="2.1" fill="none"/>
<path d="M898.6 233.0H917.2M907.9 223.7V242.3" stroke="#bcbd22" stroke-width="2.1" fill="none"/>
<path d="M915.9 213.8H934.5M925.2 204.5V223.1" stroke="#bcbd22" stroke-width="2.1" fill="none"/>
<path d="M933.9 184.3H952.5M943.2 175.0V193.6" stroke="#bcbd22" stroke-width="2.1" fill="none"/>
<path d="M950.7 235.5H969.3M960.0 226.2V244.8" stroke="#bcbd22" stroke-width="2.1" fill="none"/>
<path d="M239.1 130.4L257.5 148.8M239.1 148.8L257.5 130.4" stroke="#17becf" stroke-width="2.1" fill="none"/>
<path d="M259.0 80.3L277.4 98.7M259.0 98.7L277.4 80.3" stroke="#17becf" stroke-width="2.1" fill="none"/>
<path d="M274.6 118.5L293.0 136.9M274.6 136.9L293.0 118.5" stroke="#17becf" stroke-width="2.1" fill="none"/>
<path d="M293.0 148.8L311.4 167.2M293.0 167.2L311.4 148.8" stroke="#17becf" stroke-width="2.1" fill="none"/>
<path d="M310.4 75.4L328.8 93.8M310.4 93.8L328.8 75.4" stroke="#17becf" stroke-width="2.1" fill="none"/>
<path d="M327.2 211.6L345.6 230.0M327.2 230.0L345.6 211.6" stroke="#17becf" stroke-width="2.1" fill="none"/>
<path d="M344.8 264.5L363.2 282.9M344.8 282.9L363.2 264.5" stroke="#17becf" stroke-width="2.1" fill="none"/>
<path d="M436.8 258.8L455.2 277.2M436.8 277.2L455.2 258.8" stroke="#17becf" stroke-width="2.1" fill="none"/>
<path d="M465.4 278.6L483.8 297.0M465.4 297.0L483.8 278.6" stroke="#17becf" stroke-width="2.1" fill="none"/>
<path d="M482.6 294.7L501.0 313.1M482.6 313.1L501.0 294.7" stroke="#17becf" stroke-width="2.1" fill="none"/>
<path d="M500.5 320.7L518.9 339.1M500.5 339.1L518.9 320.7" stroke="#17becf" stroke-width="2.1" fill="none"/>
<path d="M516.5 247.5L534.9 265.9M516.5 265.9L534.9 247.5" stroke="#17becf" stroke-width="2.1" fill="none"/>
<path d="M533.4 192.7L551.8 211.1M533.4 211.1L551.8 192.7" stroke="#17becf" stroke-width="2.1" fill="none"/>
<path d="M551.6 345.6L570.0 364.0M551.6 364.0L570.0 345.6" stroke="#17becf" stroke-width="2.1" fill="none"/>
<path d="M568.7 387.5L587.1 405.9M568.7 405.9L587.1 387.5" stroke="#17becf" stroke-width="2.1" fill="none"/>
<path d="M585.7 327.6L604.1 346.0M585.7 346.0L604.1 327.6" stroke="#17becf" stroke-width="2.1" fill="none"/>
<path d="M603.6 375.5L622.0 393.9M603.6 393.9L622.0 375.5" stroke="#17becf" stroke-width="2.1" fill="none"/>
<path d="M619.6 517.5L638.0 535.9M619.6 535.9L638.0 517.5" stroke="#17becf" stroke-width="2.1" fill="none"/>
<path d="M637.1 367.8L655.5 386.2M637.1 386.2L655.5 367.8" stroke="#17becf" stroke-width="2.1" fill="none"/>
<path d="M654.9 412.4L673.3 430.8M654.9 430.8L673.3 412.4" stroke="#17becf" stroke-width="2.1" fill="none"/>
<path d="M673.4 463.6L691.8 482.0M673.4 482.0L691.8 463.6" stroke="#17becf" stroke-width="2.1" fill="none"/>
</g>
<rect x="121.3" y="552.4" width="845.7" height="162.5" rx="4" ry="4" fill="#fff" fill-opacity="0.8" stroke="#d3d3d3" stroke-width="1.8"/>
<path d="M129.5 573.5H182.8" stroke="#1f77b4" stroke-width="2.8"/>
<text x="203.9" y="582.5" font-size="25.6" textLength="235.7" lengthAdjust="spacingAndGlyphs">Order 3 Fourier fit</text>
<path d="M156.3 599.4V626.4" stroke="#1f77b4" stroke-width="2.8"/>
<circle cx="156.3" cy="612.9" r="10.40" fill="#1f77b4"/>
<text x="203.9" y="621.9" font-size="25.6" textLength="131.3" lengthAdjust="spacingAndGlyphs">20200406</text>
<path d="M156.3 638.5V665.5" stroke="#ff7f0e" stroke-width="2.8"/>
<rect x="145.9" y="641.6" width="20.8" height="20.8" fill="#ff7f0e"/>
<text x="203.9" y="661.0" font-size="25.6" textLength="131.3" lengthAdjust="spacingAndGlyphs">20200408</text>
<path d="M156.3 676.2V703.2" stroke="#2ca02c" stroke-width="2.8"/>
<path d="M156.3 679.7 L146.3 699.7 L166.3 699.7Z" fill="#2ca02c" stroke="#2ca02c" stroke-width="0.8" stroke-linejoin="miter" stroke-miterlimit="10"/>
<text x="203.9" y="698.7" font-size="25.6" textLength="131.3" lengthAdjust="spacingAndGlyphs">20200410</text>
<path d="M519.0 560.0V587.0" stroke="#d62728" stroke-width="2.8"/>
<path d="M519.0 559.4 L527.5 573.5 L519.0 587.6 L510.5 573.5Z" fill="#d62728" stroke="#d62728" stroke-width="1.0" stroke-linejoin="miter" stroke-miterlimit="10"/>
<text x="565.7" y="582.5" font-size="25.6" textLength="131.3" lengthAdjust="spacingAndGlyphs">20200411</text>
<path d="M519.0 599.4V626.4" stroke="#9467bd" stroke-width="2.8"/>
<path d="M519.0 622.9 L509.0 602.9 L529.0 602.9Z" fill="#9467bd" stroke="#9467bd" stroke-width="0.8" stroke-linejoin="miter" stroke-miterlimit="10"/>
<text x="565.7" y="621.9" font-size="25.6" textLength="131.3" lengthAdjust="spacingAndGlyphs">20200414</text>
<path d="M519.0 638.5V665.5" stroke="#8c564b" stroke-width="2.8"/>
<path d="M519.0 642.0 L516.8 648.9 L509.5 648.9 L515.4 653.2 L513.1 660.1 L519.0 655.8 L524.9 660.1 L522.6 653.2 L528.5 648.9 L521.2 648.9Z" fill="#8c564b" stroke="#8c564b" stroke-width="0.9" stroke-linejoin="miter" stroke-miterlimit="10"/>
<text x="565.7" y="661.0" font-size="25.6" textLength="131.3" lengthAdjust="spacingAndGlyphs">20200415</text>
<path d="M519.0 676.2V703.2" stroke="#e377c2" stroke-width="2.8"/>
<path d="M519.0 679.7 L509.5 686.6 L513.1 697.8 L524.9 697.8 L528.5 686.6Z" fill="#e377c2" stroke="#e377c2" stroke-width="1.2" stroke-linejoin="miter" stroke-miterlimit="10"/>
<text x="565.7" y="698.7" font-size="25.6" textLength="131.3" lengthAdjust="spacingAndGlyphs">20200416</text>
<path d="M777.3 560.0V587.0" stroke="#7f7f7f" stroke-width="2.8"/>
<path d="M777.3 563.5 L768.6 568.5 L768.6 578.5 L777.3 583.5 L786.0 578.5 L786.0 568.5Z" fill="#7f7f7f" stroke="#7f7f7f" stroke-width="0.3" stroke-linejoin="miter" stroke-miterlimit="10"/>
<text x="824.5" y="582.5" font-size="25.6" textLength="131.3" lengthAdjust="spacingAndGlyphs">20200417</text>
<path d="M777.3 599.4V626.4" stroke="#bcbd22" stroke-width="2.8"/>
<path d="M768.0 612.9H786.6M777.3 603.6V622.2" stroke="#bcbd22" stroke-width="2.1" fill="none"/>
<text x="824.5" y="621.9" font-size="25.6" textLength="131.3" lengthAdjust="spacingAndGlyphs">20200423</text>
<path d="M777.3 638.5V665.5" stroke="#17becf" stroke-width="2.8"/>
<path d="M768.1 642.8L786.5 661.2M768.1 661.2L786.5 642.8" stroke="#17becf" stroke-width="2.1" fill="none"/>
<text x="824.5" y="661.0" font-size="25.6" textLength="131.3" lengthAdjust="spacingAndGlyphs">20200424</text>
<rect x="107.5" y="2.9" width="869.5" height="726.1" fill="none" stroke="#000" stroke-width="1.6"/>
<path d="M101.0 729.00H107.5" stroke="#000" stroke-width="1.6"/>
<text x="91.6" y="738.5" font-size="27.6" text-anchor="end" textLength="54.5" lengthAdjust="spacingAndGlyphs">0.90</text>
<path d="M101.0 632.12H107.5" stroke="#000" stroke-width="1.6"/>
<text x="91.6" y="641.6" font-size="27.6" text-anchor="end" textLength="54.5" lengthAdjust="spacingAndGlyphs">0.92</text>
<path d="M101.0 535.24H107.5" stroke="#000" stroke-width="1.6"/>
<text x="91.6" y="544.7" font-size="27.6" text-anchor="end" textLength="54.5" lengthAdjust="spacingAndGlyphs">0.94</text>
<path d="M101.0 438.36H107.5" stroke="#000" stroke-width="1.6"/>
<text x="91.6" y="447.9" font-size="27.6" text-anchor="end" textLength="54.5" lengthAdjust="spacingAndGlyphs">0.96</text>
<path d="M101.0 341.48H107.5" stroke="#000" stroke-width="1.6"/>
<text x="91.6" y="351.0" font-size="27.6" text-anchor="end" textLength="54.5" lengthAdjust="spacingAndGlyphs">0.98</text>
<path d="M101.0 244.60H107.5" stroke="#000" stroke-width="1.6"/>
<text x="91.6" y="254.1" font-size="27.6" text-anchor="end" textLength="54.5" lengthAdjust="spacingAndGlyphs">1.00</text>
<path d="M101.0 147.72H107.5" stroke="#000" stroke-width="1.6"/>
<text x="91.6" y="157.2" font-size="27.6" text-anchor="end" textLength="54.5" lengthAdjust="spacingAndGlyphs">1.02</text>
<path d="M101.0 50.84H107.5" stroke="#000" stroke-width="1.6"/>
<text x="91.6" y="60.3" font-size="27.6" text-anchor="end" textLength="54.5" lengthAdjust="spacingAndGlyphs">1.04</text>
<path d="M107.50 729.0V735.8" stroke="#000" stroke-width="1.6"/>
<text x="106.70" y="760.9" font-size="27.6" text-anchor="middle" textLength="40" lengthAdjust="spacingAndGlyphs">0.0</text>
<path d="M281.40 729.0V735.8" stroke="#000" stroke-width="1.6"/>
<text x="280.60" y="760.9" font-size="27.6" text-anchor="middle" textLength="40" lengthAdjust="spacingAndGlyphs">0.2</text>
<path d="M455.30 729.0V735.8" stroke="#000" stroke-width="1.6"/>
<text x="454.50" y="760.9" font-size="27.6" text-anchor="middle" textLength="40" lengthAdjust="spacingAndGlyphs">0.4</text>
<path d="M629.20 729.0V735.8" stroke="#000" stroke-width="1.6"/>
<text x="628.40" y="760.9" font-size="27.6" text-anchor="middle" textLength="40" lengthAdjust="spacingAndGlyphs">0.6</text>
<path d="M803.10 729.0V735.8" stroke="#000" stroke-width="1.6"/>
<text x="802.30" y="760.9" font-size="27.6" text-anchor="middle" textLength="40" lengthAdjust="spacingAndGlyphs">0.8</text>
<path d="M977.00 729.0V735.8" stroke="#000" stroke-width="1.6"/>
<text x="976.20" y="760.9" font-size="27.6" text-anchor="middle" textLength="40" lengthAdjust="spacingAndGlyphs">1.0</text>
<text x="541.9" y="793.7" font-size="27.6" text-anchor="middle" textLength="197" lengthAdjust="spacingAndGlyphs">Rotation phase</text>
<text transform="translate(22.2 365.4) rotate(-90)" x="0" y="0" font-size="27.6" text-anchor="middle" textLength="267" lengthAdjust="spacingAndGlyphs">Relative polarization</text>
</g></svg></body></html>
